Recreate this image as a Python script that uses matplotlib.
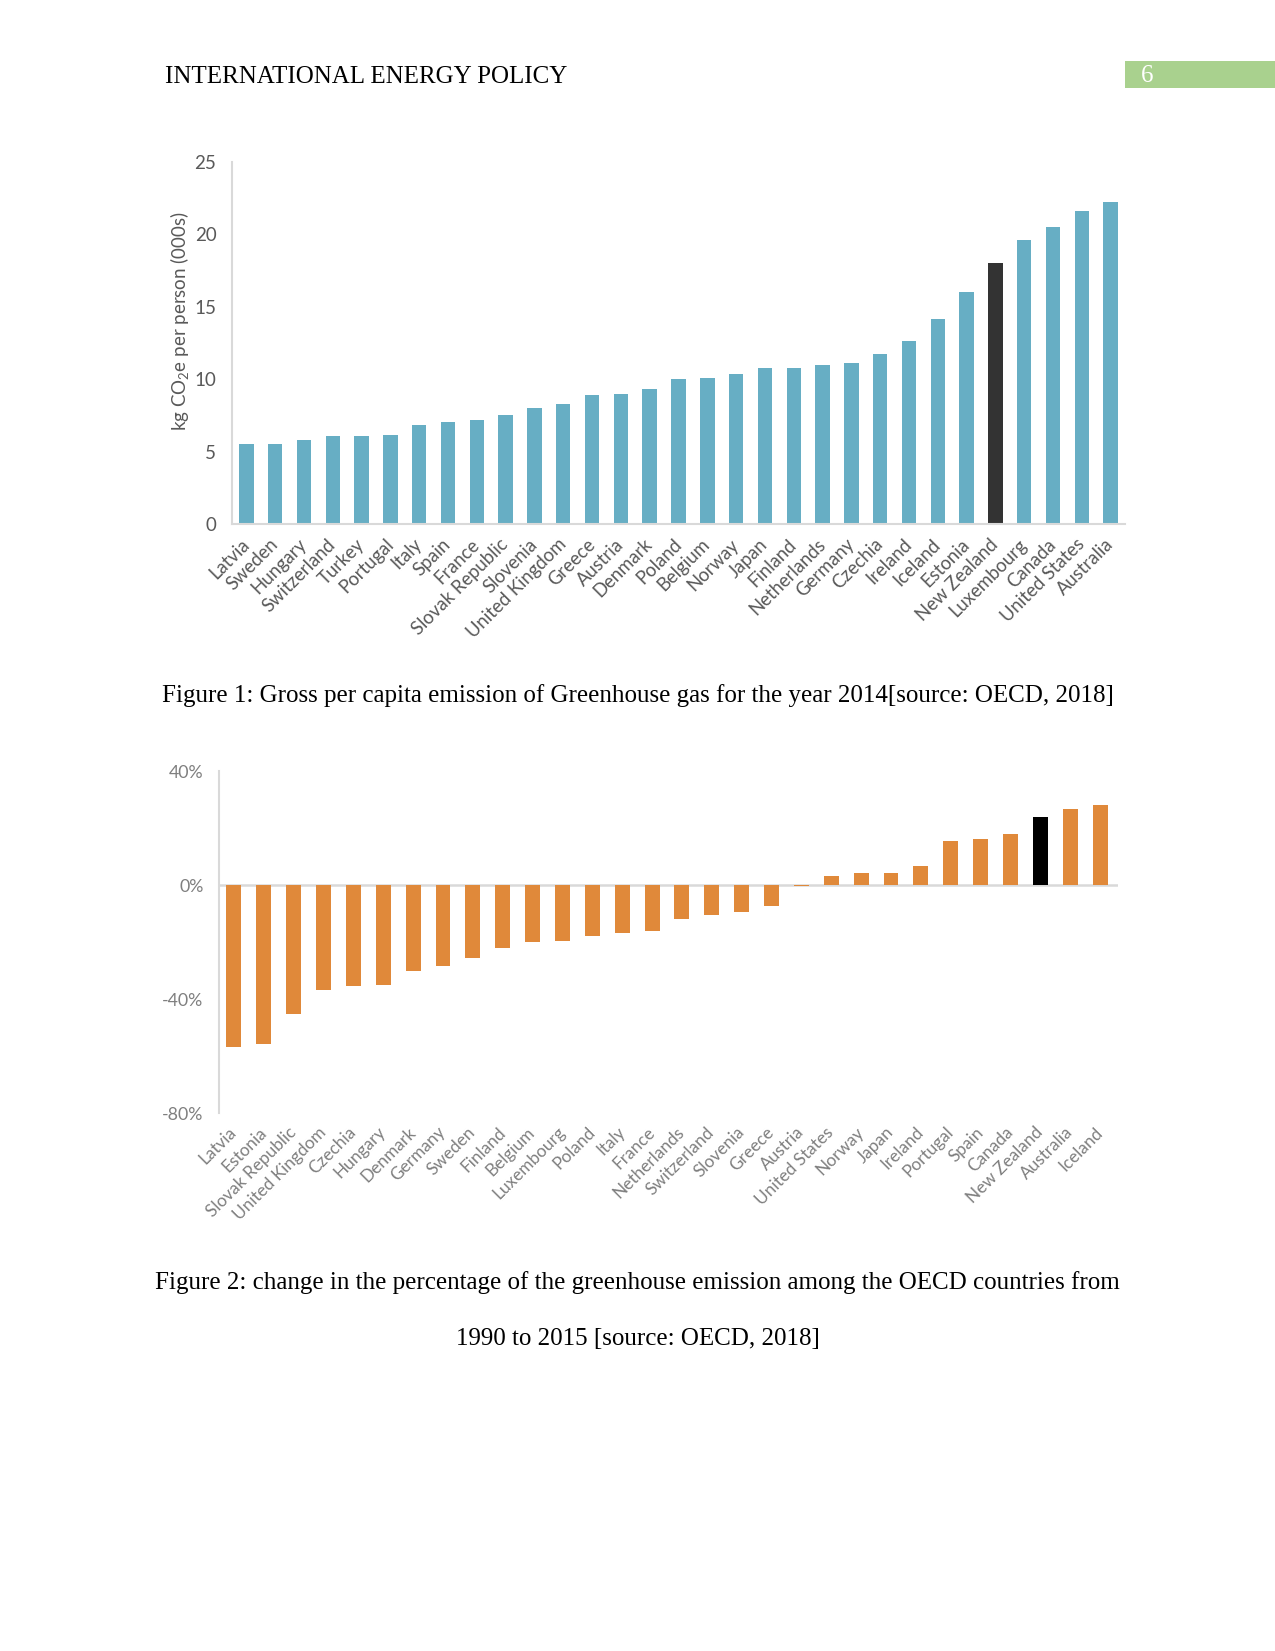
import matplotlib
matplotlib.use("Agg")
import matplotlib.pyplot as plt
from matplotlib.patches import Rectangle
from matplotlib.transforms import ScaledTranslation

plt.rcParams['font.family'] = ['Lato', 'DejaVu Sans']

# ---------------- data ----------------
countries1 = ["Latvia", "Sweden", "Hungary", "Switzerland", "Turkey", "Portugal", "Italy",
              "Spain", "France", "Slovak Republic", "Slovenia", "United Kingdom", "Greece",
              "Austria", "Denmark", "Poland", "Belgium", "Norway", "Japan", "Finland",
              "Netherlands", "Germany", "Czechia", "Ireland", "Iceland", "Estonia",
              "New Zealand", "Luxembourg", "Canada", "United States", "Australia"]
emissions1 = [5.5, 5.55, 5.8, 6.05, 6.1, 6.15, 6.85, 7.05, 7.2, 7.5, 8.0, 8.3, 8.9,
              8.95, 9.3, 10.0, 10.05, 10.35, 10.75, 10.8, 11.0, 11.1, 11.75, 12.65,
              14.15, 16.0, 18.0, 19.6, 20.5, 21.6, 22.25]
highlight1 = "New Zealand"
yticks1 = [0, 5, 10, 15, 20, 25]

countries2 = ["Latvia", "Estonia", "Slovak Republic", "United Kingdom", "Czechia", "Hungary",
              "Denmark", "Germany", "Sweden", "Finland", "Belgium", "Luxembourg", "Poland",
              "Italy", "France", "Netherlands", "Switzerland", "Slovenia", "Greece",
              "Austria", "United States", "Norway", "Japan", "Ireland", "Portugal", "Spain",
              "Canada", "New Zealand", "Australia", "Iceland"]
change2 = [-57.0, -55.9, -45.1, -36.7, -35.6, -35.2, -30.1, -28.5, -25.5, -22.2, -20.0,
           -19.7, -17.9, -16.9, -16.0, -11.8, -10.4, -9.6, -7.5, -0.3, 3.3, 4.1, 4.1,
           6.6, 15.6, 16.2, 18.0, 24.0, 26.7, 27.9]
highlight2 = "New Zealand"
yticks2 = [-80, -40, 0, 40]
yticklabels2 = ["-80%", "-40%", "0%", "40%"]

header = "INTERNATIONAL ENERGY POLICY"
page_no = "6"
caption1 = "Figure 1: Gross per capita emission of Greenhouse gas for the year 2014[source: OECD, 2018]"
caption2a = "Figure 2: change in the percentage of the greenhouse emission among the OECD countries from"
caption2b = "1990 to 2015 [source: OECD, 2018]"

# ---------------- figure ----------------
W, H = 1275, 1651
DPI = 150
fig = plt.figure(figsize=(W / DPI, H / DPI), dpi=DPI)
fig.patch.set_facecolor("white")

def fx(px):
    return px / W

def fy(py):
    return 1 - py / H

serif = ['Liberation Serif', 'DejaVu Serif']

# header
fig.text(fx(165), fy(77), header, family=serif, fontsize=12, ha='left', va='center', color='black')
fig.patches.append(Rectangle((fx(1125), fy(88)), fx(150), fy(61) - fy(88),
                             transform=fig.transFigure, facecolor='#A9D18E', edgecolor='none'))
fig.text(fx(1147), fy(76), page_no, family=serif, fontsize=12, ha='center', va='center', color='white')

shift = ScaledTranslation(2.5 / 72, 0, fig.dpi_scale_trans)

# ---------------- chart 1 ----------------
ax1 = fig.add_axes([fx(232), fy(524), fx(1125) - fx(232), fy(162) - fy(524)])
x1 = list(range(len(countries1)))
colors1 = ['#333333' if c == highlight1 else '#67AEC4' for c in countries1]
ax1.bar(x1, emissions1, width=0.5, color=colors1, zorder=2)
ax1.set_xlim(-0.5, len(countries1) - 0.5)
ax1.set_ylim(0, 25)
ax1.set_yticks(yticks1)
ax1.set_yticklabels([str(v) for v in yticks1])
ax1.set_xticks(x1)
ax1.set_xticklabels(countries1, rotation=45, ha='right', va='center', rotation_mode='anchor',
                    fontsize=8.9)
for lbl in ax1.get_xticklabels():
    lbl.set_transform(lbl.get_transform() + shift)
for s in ['top', 'right']:
    ax1.spines[s].set_visible(False)
for s in ['left', 'bottom']:
    ax1.spines[s].set_color('#D9D9D9')
    ax1.spines[s].set_linewidth(1.0)
ax1.tick_params(axis='both', length=0, colors='#595959')
ax1.tick_params(axis='y', pad=7.5, labelsize=9)
ax1.tick_params(axis='x', pad=8.5)
ax1.text(-0.059, 0.56, r"kg CO$\mathregular{_2}$e per person (000s)", transform=ax1.transAxes,
         rotation=90, ha='center', va='center', color='#595959', fontsize=9)

fig.text(0.5, fy(696), caption1, family=serif, fontsize=12, ha='center', va='center')

# ---------------- chart 2 ----------------
ax2 = fig.add_axes([fx(219), fy(1113), fx(1118) - fx(219), fy(771) - fy(1113)])
x2 = list(range(len(countries2)))
colors2 = ['#000000' if c == highlight2 else '#E0893A' for c in countries2]
ax2.axhline(0, color='#D9D9D9', linewidth=1.2, zorder=1)
ax2.bar(x2, change2, width=0.5, color=colors2, zorder=2)
ax2.set_xlim(-0.5, len(countries2) - 0.4)
ax2.set_ylim(-80, 40)
ax2.set_yticks(yticks2)
ax2.set_yticklabels(yticklabels2)
ax2.set_xticks(x2)
ax2.set_xticklabels(countries2, rotation=45, ha='right', va='center', rotation_mode='anchor',
                    fontsize=8.3)
for lbl in ax2.get_xticklabels():
    lbl.set_transform(lbl.get_transform() + shift)
for s in ['top', 'right', 'bottom']:
    ax2.spines[s].set_visible(False)
ax2.spines['left'].set_color('#D9D9D9')
ax2.spines['left'].set_linewidth(1.0)
ax2.tick_params(axis='both', length=0, colors='#7F7F7F')
ax2.tick_params(axis='y', pad=7.5, labelsize=8.5)
ax2.tick_params(axis='x', pad=8)

fig.text(0.5, fy(1283), caption2a, family=serif, fontsize=12, ha='center', va='center')
fig.text(0.5, fy(1339), caption2b, family=serif, fontsize=12, ha='center', va='center')

fig.savefig("out.png", dpi=DPI, facecolor='white')
